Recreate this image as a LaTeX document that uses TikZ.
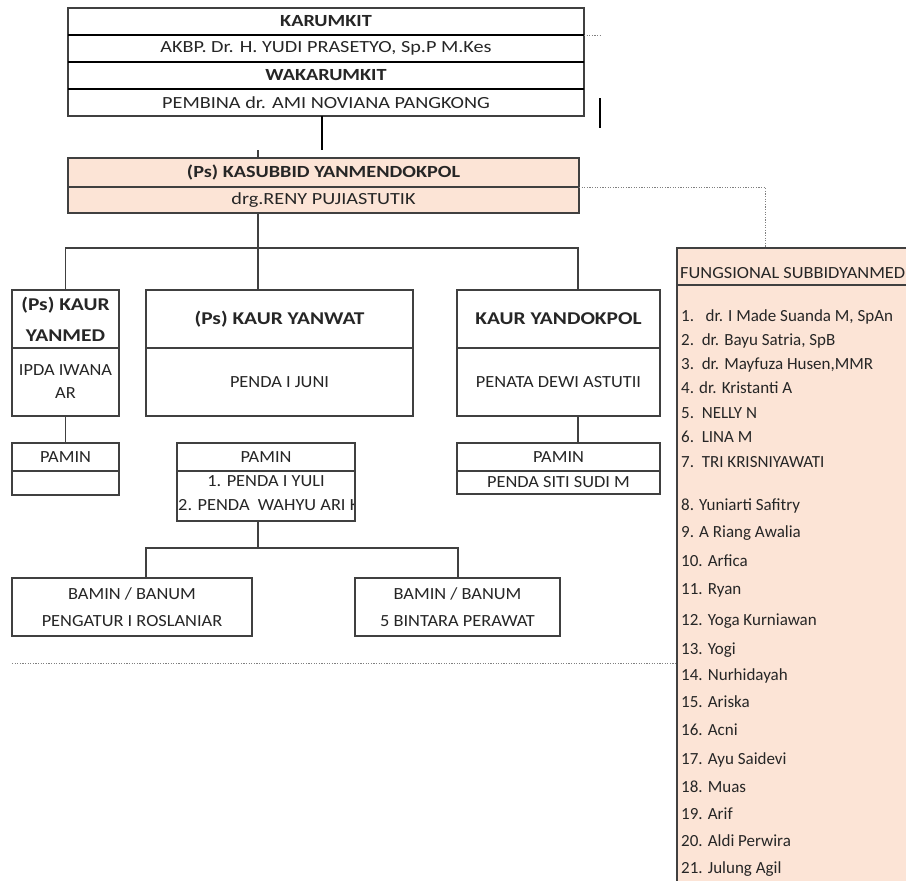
\documentclass[tikz,border=0pt]{standalone}
\usepackage{fontspec}
\setmainfont{Carlito}
\newfontfamily\chartfam[FakeStretch=1.19]{Carlito}
\newfontfamily\headfam[FakeStretch=1.08]{Carlito}
\definecolor{peach}{HTML}{FCE4D6}
\definecolor{boxgray}{HTML}{404040}
\definecolor{txt}{HTML}{262626}
\newcommand\regfont{\chartfam\fontsize{17}{23}\selectfont}
\newcommand\lowfont{\headfam\fontsize{17}{23}\selectfont}
\newcommand\bigfont{\chartfam\fontsize{18}{31}\selectfont\bfseries}
\newcommand\listfont{\fontsize{17}{23}\selectfont}
\begin{document}
\begin{tikzpicture}[x=1pt,y=-1pt,
  box/.style={draw=boxgray, line width=1.2pt, anchor=north west, inner sep=0pt,
    outer sep=0pt, font=\regfont, text=txt, align=center},
  lowbox/.style={box, font=\lowfont},
  rule/.style={draw=black, line width=2.4pt},
  conn/.style={draw=boxgray, line width=1.2pt},
  dotline/.style={draw=gray, line width=1pt, dash pattern=on 1.2pt off 1.4pt},
  item/.style={anchor=mid west, inner sep=0pt, font=\listfont, text=txt}]
\clip (0,0) rectangle (906,881);
\fill[white] (0,0) rectangle (906,881);

% hospital head and deputy
\node[box, minimum width=516pt, minimum height=27pt, font=\regfont\bfseries] (karumkit) at (68,8) {KARUMKIT};
\node[box, minimum width=516pt, minimum height=27pt] (yudi) at (68,35) {AKBP. Dr. H. YUDI PRASETYO, Sp.P M.Kes};
\node[box, minimum width=516pt, minimum height=27pt, font=\regfont\bfseries] (waka) at (68,62) {WAKARUMKIT};
\node[box, minimum width=516pt, minimum height=27pt] (pembina) at (68,89) {PEMBINA dr. AMI NOVIANA PANGKONG};
\draw[rule] (karumkit.south west) -- (karumkit.south east);
\draw[rule] (yudi.south west) -- (yudi.south east);
\draw[rule] (waka.south west) -- (waka.south east);
\draw[dotline] (karumkit.south east) -- ++(16,0);
\draw[line width=1.2pt] (600,98) -- (600,128);

% sub-division head
\node[box, fill=peach, minimum width=511pt, minimum height=29pt, font=\regfont\bfseries] (kasub) at (68,158) {(Ps) KASUBBID YANMENDOKPOL};
\node[box, fill=peach, minimum width=511pt, minimum height=26pt] (reny) at (68,187) {drg.RENY PUJIASTUTIK};
\coordinate (p1) at (322,150);
\coordinate (p2) at (258,150);
\draw[line width=2.2pt] (pembina.south -| p1) -- (p1);
\draw[conn] (p2) -- (kasub.north -| p2);

% functional staff panel
\node[box, fill=peach, minimum width=260pt, minimum height=37pt] (fhead) at (677,248) {};
\node[box, fill=peach, minimum width=260pt, minimum height=620pt] (fbody) at (677,285) {};
\node[item, font=\lowfont] (fh) at (680,276) {FUNGSIONAL SUBBIDYANMED};
\coordinate (dk) at (765,248);
\draw[dotline] (reny.north east) -| (dk);

\node[item] (f1) at (681,319) {1.\ \ \ dr. I Made Suanda M, SpAn};
\node[item] (f2) at (681,343) {2.\ \ dr. Bayu Satria, SpB};
\node[item] (f3) at (681,367) {3.\ \ dr. Mayfuza Husen,MMR};
\node[item] (f4) at (681,391) {4. dr. Kristanti A};
\node[item] (f5) at (681,416) {5.\ \ NELLY N};
\node[item] (f6) at (681,440) {6.\ \ LINA M};
\node[item] (f7) at (681,465) {7.\ \ TRI KRISNIYAWATI};
\node[item] (f8) at (681,508) {8. Yuniarti Safitry};
\node[item] (f9) at (681,535) {9. A Riang Awalia};
\node[item] (f10) at (681,564) {10. Arfica};
\node[item] (f11) at (681,592) {11. Ryan};
\node[item] (f12) at (681,623) {12. Yoga Kurniawan};
\node[item] (f13) at (681,652) {13. Yogi};
\node[item] (f14) at (681,678) {14. Nurhidayah};
\node[item] (f15) at (681,705) {15. Ariska};
\node[item] (f16) at (681,733) {16. Acni};
\node[item] (f17) at (681,762) {17. Ayu Saidevi};
\node[item] (f18) at (681,790) {18. Muas};
\node[item] (f19) at (681,817) {19. Arif};
\node[item] (f20) at (681,844) {20. Aldi Perwira};
\node[item] (f21) at (681,871) {21. Julung Agil};

% section heads
\node[box, minimum width=107pt, minimum height=58pt, font=\bigfont] (yanmedT) at (12,290) {(Ps) KAUR\\YANMED};
\node[lowbox, minimum width=107pt, minimum height=68pt] (yanmedB) at (12,348) {IPDA IWANA\\AR};
\node[box, minimum width=267pt, minimum height=58pt, font=\bigfont] (yanwatT) at (146,290) {(Ps) KAUR YANWAT};
\node[lowbox, minimum width=267pt, minimum height=68pt] (yanwatB) at (146,348) {PENDA I JUNI};
\node[box, minimum width=203pt, minimum height=58pt, font=\bigfont] (yandokT) at (457,290) {KAUR YANDOKPOL};
\node[lowbox, minimum width=203pt, minimum height=68pt] (yandokB) at (457,348) {PENATA DEWI ASTUTII};

\coordinate (b1) at (258,248);
\coordinate (b2) at (578,248);
\draw[conn] (reny.south -| b1) -- (b1);
\draw[conn] (yanmedT.north) -- (yanmedT.north |- b1) -- (b2) -- (yandokT.north -| b2);
\draw[conn] (b1) -- (yanwatT.north -| b1);

% staff officers
\node[lowbox, minimum width=107pt, minimum height=28pt] (paminL) at (12,443) {PAMIN};
\node[lowbox, minimum width=107pt, minimum height=24pt] (paminLB) at (12,471) {};
\draw[conn] (yanmedB.south) -- (paminL.north);

\node[lowbox, minimum width=178pt, minimum height=28pt] (paminM) at (177,443) {PAMIN};
\node[lowbox, minimum width=178pt, minimum height=50pt] (paminMB) at (177,471) {};
\begin{scope}
  \clip (paminMB.north west) rectangle (paminMB.south east);
  \node[anchor=mid, inner sep=0pt, font=\lowfont, text=txt] (pm1) at (266,484) {1. PENDA I YULI};
  \node[anchor=mid west, inner sep=0pt, font=\lowfont, text=txt] (pm2) at (178,508) {2. PENDA\ \ WAHYU ARI K};
\end{scope}
\draw[boxgray, line width=1.2pt] (paminMB.north west) rectangle (paminMB.south east);

\node[lowbox, minimum width=203pt, minimum height=28pt] (paminR) at (457,443) {PAMIN};
\node[lowbox, minimum width=203pt, minimum height=23pt] (paminRB) at (457,471) {PENDA SITI SUDI M};
\draw[conn] (yandokB.south -| b2) -- (paminR.north -| b2);

% clerks
\node[lowbox, minimum width=240pt, minimum height=58pt, font=\headfam\fontsize{17}{27}\selectfont] (bamin1) at (12,578) {BAMIN / BANUM\\PENGATUR I ROSLANIAR};
\node[lowbox, minimum width=205pt, minimum height=58pt, font=\headfam\fontsize{17}{27}\selectfont] (bamin2) at (355,578) {BAMIN / BANUM\\5 BINTARA PERAWAT};
\coordinate (c0) at (258,548);
\coordinate (c1) at (146,548);
\coordinate (c2) at (458,548);
\draw[conn] (paminMB.south -| c0) -- (c0);
\draw[conn] (bamin1.north -| c1) -- (c1) -- (c2) -- (bamin2.north -| c2);

\coordinate (dl) at (12,663);
\draw[dotline] (dl) -- (dl -| fbody.west);
\end{tikzpicture}
\end{document}
